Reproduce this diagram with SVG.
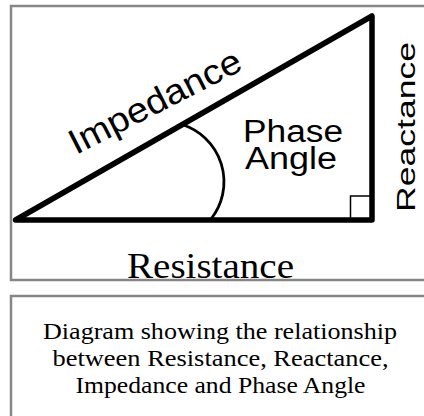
<svg xmlns="http://www.w3.org/2000/svg" width="424" height="416" viewBox="0 0 424 416">
  <style>
    .frame { fill: none; stroke: #868686; stroke-width: 2.5; }
    .tri { fill: none; stroke: #000000; stroke-width: 5.5; stroke-linejoin: round; stroke-linecap: round; }
    .thin { fill: none; stroke: #000000; stroke-width: 1.5; }
    .arc { fill: none; stroke: #000000; stroke-width: 2.8; }
    .sans { font-family: "Liberation Sans", Arial, sans-serif; fill: #000000; }
    .serif { font-family: "Liberation Serif", "Times New Roman", serif; fill: #000000; }
  </style>
  <rect width="424" height="416" fill="#ffffff"/>
  <g id="triangle">
    <path class="tri" d="M15.5,220 L372,16 L372,220 Z"/>
    <path class="thin" d="M350.5,218 V196 H370"/>
    <path class="arc" d="M182,124.5 A60,60 0 0 1 211,219"/>
  </g>
  <g id="labels">
    <text class="sans" font-size="35" x="76" y="155" textLength="189" lengthAdjust="spacingAndGlyphs" transform="rotate(-27 76 155)">Impedance</text>
    <text class="sans" font-size="31" x="243" y="141.7" textLength="100" lengthAdjust="spacingAndGlyphs">Phase</text>
    <text class="sans" font-size="31" x="245" y="169.3" textLength="92" lengthAdjust="spacingAndGlyphs">Angle</text>
    <text class="sans" font-size="26" x="0" y="0" textLength="170" lengthAdjust="spacingAndGlyphs" transform="translate(415 212) rotate(-90)">Reactance</text>
    <text class="serif" font-size="36" x="127" y="277.5" textLength="167" lengthAdjust="spacingAndGlyphs">Resistance</text>
  </g>
  <g id="frames">
    <rect class="frame" x="11" y="6" width="430" height="274"/>
    <rect class="frame" x="11" y="296" width="430" height="140"/>
  </g>
  <g id="caption">
    <text class="serif" font-size="24" x="220" y="339" text-anchor="middle" textLength="354" lengthAdjust="spacingAndGlyphs">Diagram showing the relationship</text>
    <text class="serif" font-size="24" x="220.5" y="366" text-anchor="middle" textLength="336" lengthAdjust="spacingAndGlyphs">between Resistance, Reactance,</text>
    <text class="serif" font-size="24" x="220.5" y="393" text-anchor="middle" textLength="290" lengthAdjust="spacingAndGlyphs">Impedance and Phase Angle</text>
  </g>
</svg>
